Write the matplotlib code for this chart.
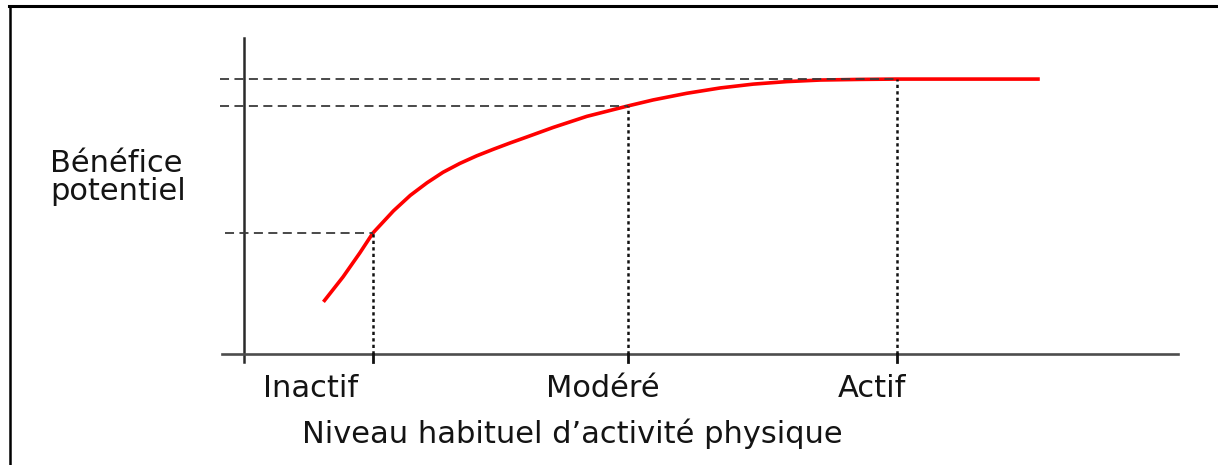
import matplotlib.pyplot as plt
from matplotlib.lines import Line2D

# Niveau d'activité (axe x, unités arbitraires 0-100) et bénéfice (axe y, 0-100)
curve_x = [8.5, 10.6, 12.4, 13.8, 16.0, 17.8, 19.6, 21.3, 23.1, 24.9, 26.7, 28.5,
           30.3, 33.1, 36.7, 41.1, 43.8, 47.4, 51.0, 54.5, 58.1, 61.7, 66.0, 69.8, 85.2]
curve_y = [16.5, 24.4, 32.0, 38.3, 45.3, 50.2, 54.2, 57.5, 60.3, 62.7, 64.8, 66.8,
           68.7, 71.7, 75.2, 78.5, 80.4, 82.5, 84.2, 85.4, 86.2, 86.7, 86.9, 87.0, 87.0]

levels = ['Inactif', 'Modéré', 'Actif']
level_x = [13.8, 41.1, 69.9]
level_y = [38.3, 78.5, 87.0]
# début des tirets horizontaux (à gauche de l'axe y)
guide_start = [-2.0, -2.6, -2.6]

W, H = 1218, 465
fig = plt.figure(figsize=(W / 100, H / 100), dpi=100)
plt.rcParams['font.family'] = 'DejaVu Sans'

# axes placés pour que l'axe y tombe vers x=244 px et l'axe x vers y=354 px
ax = fig.add_axes([222 / W, (H - 362) / H, (1178 - 222) / W, (362 - 38) / H])
ax.set_xlim(-2.36, 100)
ax.set_ylim(-2.53, 100)
ax.axis('off')

# axes dessinés à la main
ax.plot([0, 0], [-2.53, 100], color='#2a2a2a', lw=1.8, clip_on=False, zorder=2)
ax.plot([-2.36, 100], [0, 0], color='#4d4d4d', lw=1.9, clip_on=False, zorder=2)

# courbe
ax.plot(curve_x, curve_y, color='#ff0000', lw=2.6, solid_capstyle='butt',
        solid_joinstyle='round', zorder=3)

for x, y, x0 in zip(level_x, level_y, guide_start):
    # repère horizontal tireté
    ax.plot([x0, x], [y, y], color='#3a3a3a', lw=1.3, linestyle=(0, (5, 3)),
            clip_on=False, zorder=4)
    # repère vertical pointillé
    ax.plot([x, x], [0, y], color='#111111', lw=1.8, linestyle=(0, (1.3, 1.3)), zorder=4)
    # graduation
    ax.plot([x, x], [0, -2.53], color='#111111', lw=2.0, clip_on=False, zorder=4)

# textes (positions en pixels de la figure)
def px(x, y):
    return x / W, 1 - y / H

txt = dict(fontsize=22, color='#141414')
fig.text(*px(50, 172), 'Bénéfice', ha='left', va='baseline', **txt)
fig.text(*px(50, 200), 'potentiel', ha='left', va='baseline', **txt)

label_px = [311, 603, 872]
for name, lx in zip(levels, label_px):
    fig.text(*px(lx, 397), name, ha='center', va='baseline', **txt)

fig.text(*px(572, 443), 'Niveau habituel d’activité physique', ha='center',
         va='baseline', **txt)

# cadre (haut et gauche)
fig.add_artist(Line2D([9 / W, 1], [1 - 6.5 / H, 1 - 6.5 / H], color='black', lw=2.2,
                      transform=fig.transFigure))
fig.add_artist(Line2D([9.5 / W, 9.5 / W], [0, 1 - 6.5 / H], color='black', lw=1.8,
                      transform=fig.transFigure))

fig.savefig('out.png', dpi=100)
